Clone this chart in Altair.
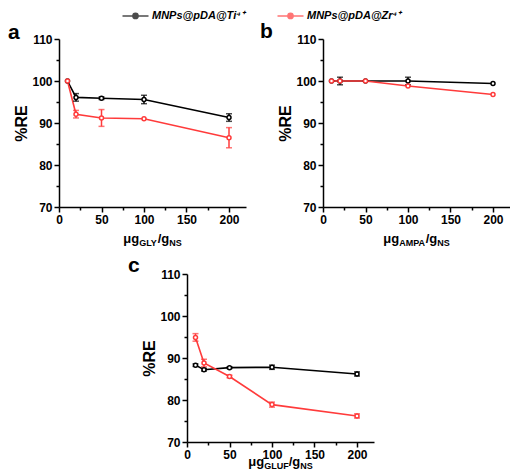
import altair as alt
import pandas as pd

FONT = "Liberation Sans"

# ---------------- data ----------------
x_vals = [10, 20, 50, 100, 200]
series = ["MNPs@pDA@Ti⁴⁺", "MNPs@pDA@Zr⁴⁺"]
colors = ["#000000", "#ff3b3b"]

gly_ti = [100, 96.1, 95.9, 95.6, 91.3]
gly_ti_err = [0, 0.9, 0.3, 1.0, 0.9]
gly_zr = [100, 92.1, 91.2, 91.0, 86.5]
gly_zr_err = [0, 0.9, 2.0, 0, 2.4]

ampa_ti = [100, 100, 100, 100, 99.4]
ampa_ti_err = [0, 0.9, 0, 0.9, 0]
ampa_zr = [100, 100, 100, 98.8, 96.8]
ampa_zr_err = [0, 0, 0, 0, 0]

gluf_ti = [88.3, 87.2, 87.7, 87.8, 86.2]
gluf_ti_err = [0.3, 0.3, 0.2, 0.5, 0.5]
gluf_zr = [94.9, 88.8, 85.6, 78.9, 76.2]
gluf_zr_err = [0.9, 0.9, 0.3, 0.6, 0.5]

x_ticks = [0, 25, 50, 75, 100, 125, 150, 175, 200]
y_ticks = [70, 75, 80, 85, 90, 95, 100, 105, 110]

W, H = 187, 168
HSP = 77


def make_df(ti, ti_err, zr, zr_err):
    rows = []
    for s, vals, errs in [(series[0], ti, ti_err), (series[1], zr, zr_err)]:
        for xv, v, e in zip(x_vals, vals, errs):
            rows.append({"x": xv, "y": v, "lo": v - e, "hi": v + e, "err": e, "series": s})
    return pd.DataFrame(rows)


color_scale = alt.Scale(domain=series, range=colors)
legend = alt.Legend(
    title=None, orient="none", legendX=69, legendY=-31, direction="horizontal",
    symbolType="M-2,0L2,0M0.4,0A0.4,0.4,0,1,1,-0.4,0A0.4,0.4,0,1,1,0.4,0Z",
    symbolSize=169, symbolStrokeWidth=1.5, symbolFillColor="white",
    labelFontSize=11, labelFontWeight="bold", labelFontStyle="italic",
    labelFont=FONT, labelColor="black", columnPadding=29, labelOffset=9,
)

xaxis = alt.Axis(
    values=x_ticks, title=None, grid=False,
    labelExpr="datum.value % 50 == 0 ? datum.label : ''",
    tickSize={"condition": {"test": "datum.value % 50 == 0", "value": 5}, "value": 3},
    labelFont=FONT, labelFontSize=12, labelFontWeight="bold", labelColor="black",
    labelFlush=False, labelOverlap=False, labelPadding=2,
    domainColor="black", domainWidth=1.5, tickColor="black", tickWidth=1.5,
)
yaxis = alt.Axis(
    values=y_ticks, title="%RE", grid=False,
    labelExpr="datum.value % 10 == 0 ? datum.label : ''",
    tickSize={"condition": {"test": "datum.value % 10 == 0", "value": 5}, "value": 3},
    labelFont=FONT, labelFontSize=12, labelFontWeight="bold", labelColor="black",
    labelFlush=False, labelOverlap=False, labelPadding=2,
    titleFont=FONT, titleFontSize=16, titleFontWeight="bold", titleColor="black",
    titlePadding=2,
    domainColor="black", domainWidth=1.5, tickColor="black", tickWidth=1.5,
)
xscale = alt.Scale(domain=[0, 220], nice=False, zero=False)
yscale = alt.Scale(domain=[70, 110], nice=False, zero=False)

WID = {"μ": .611, "g": .611, "/": .278, "G": .778, "L": .611, "Y": .667,
       "U": .722, "F": .611, "A": .722, "M": .833, "P": .667, "N": .722, "S": .667}
MAIN, SUB = 13, 9


def txt(t, px, py, size, weight="bold"):
    return alt.Chart(pd.DataFrame({"t": [t]})).mark_text(
        align="left", baseline="alphabetic", fontSize=size, fontWeight=weight,
        font=FONT, color="black"
    ).encode(text="t:N", x=alt.value(px), y=alt.value(py))


def x_title(sub, cx, base):
    segs = [("μg", MAIN, 0), (sub, SUB, 3), ("/g", MAIN, 0), ("NS", SUB, 3)]
    widths = [sum(WID.get(c, .6) for c in s) * sz for s, sz, _ in segs]
    x0 = cx - sum(widths) / 2
    layers = []
    for (s, sz, dy), w in zip(segs, widths):
        layers.append(txt(s, x0, base + dy, sz))
        x0 += w
    return layers


def panel(df, sub, label, lx, ly, title_base):
    base = alt.Chart(df)
    color = alt.Color("series:N", scale=color_scale, legend=legend)
    x = alt.X("x:Q", scale=xscale, axis=xaxis)
    line = base.mark_line(strokeWidth=1.6).encode(
        x=x, y=alt.Y("y:Q", scale=yscale, axis=yaxis), color=color)
    err = base.transform_filter("datum.err > 0").mark_errorbar(
        ticks=True, size=6, thickness=1.5
    ).encode(x=x, y=alt.Y("lo:Q", scale=yscale, axis=yaxis), y2="hi:Q", color=color)
    pts = base.mark_point(filled=False, fill="white", size=16, strokeWidth=1.5, opacity=1).encode(
        x=x, y=alt.Y("y:Q", scale=yscale, axis=yaxis), color=color)
    layers = [line, err, pts, txt(label, lx, ly, 21)] + x_title(sub, W / 2, title_base)
    return alt.layer(*layers).properties(width=W, height=H)


pa = panel(make_df(gly_ti, gly_ti_err, gly_zr, gly_zr_err), "GLY", "a", -51, 0, 204)
pb = panel(make_df(ampa_ti, ampa_ti_err, ampa_zr, ampa_zr_err), "AMPA", "b", -63, -1, 204)
pc = panel(make_df(gluf_ti, gluf_ti_err, gluf_zr, gluf_zr_err), "GLUF", "c", -59, -2, 192)

spacer = alt.Chart(pd.DataFrame({"v": [0]})).mark_point(opacity=0).properties(width=128 - HSP, height=H)

top = alt.hconcat(pa, pb, spacing=HSP, bounds="flush")
bottom = alt.hconcat(spacer, pc, spacing=HSP, bounds="flush")
chart = alt.vconcat(top, bottom, spacing=7, bounds="full").properties(
    padding={"left": 0, "top": 0, "right": 0, "bottom": 0}
).configure_view(stroke=None)

chart.save("out.html", embed_options={"renderer": "svg", "actions": False})
